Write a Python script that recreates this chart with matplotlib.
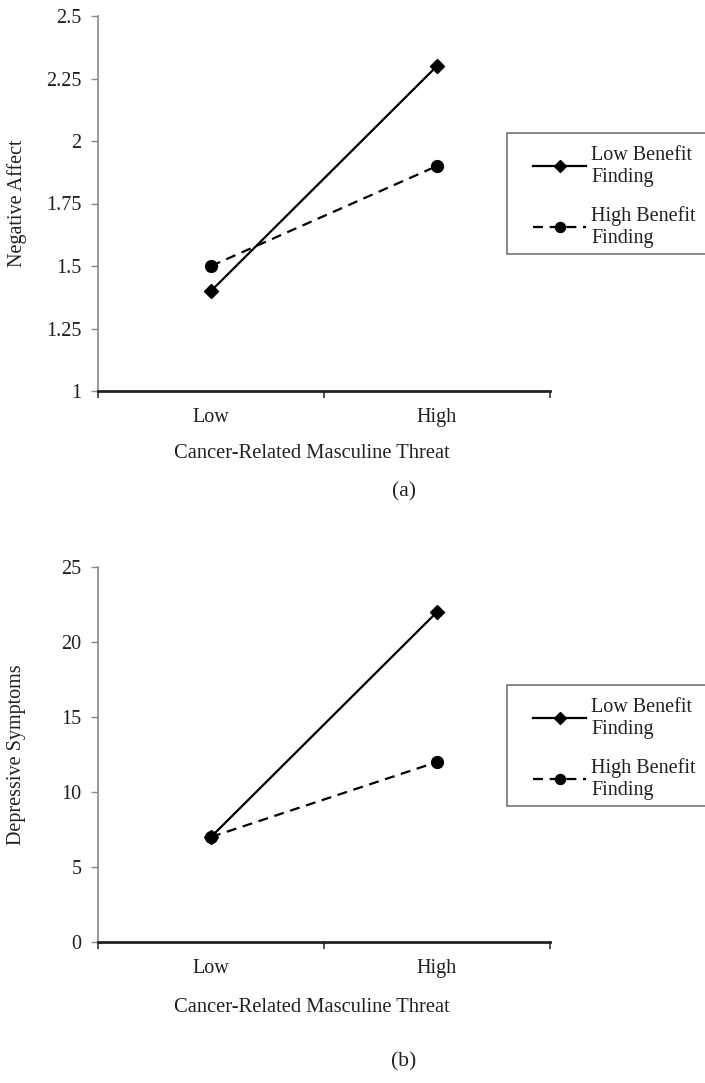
import matplotlib
matplotlib.use("Agg")
import matplotlib.pyplot as plt
from matplotlib.patches import Rectangle

plt.rcParams['font.family'] = ['Liberation Serif', 'DejaVu Serif']

categories = ["Low", "High"]
series_names = ["Low Benefit\nFinding", "High Benefit\nFinding"]
xlabel = "Cancer-Related Masculine Threat"

na_low_bf = [1.4, 2.3]
na_high_bf = [1.5, 1.9]
na_ticks = [1, 1.25, 1.5, 1.75, 2, 2.25, 2.5]
na_ticklabels = ["1", "1.25", "1.5", "1.75", "2", "2.25", "2.5"]

dep_low_bf = [7, 22]
dep_high_bf = [7, 12]
dep_ticks = [0, 5, 10, 15, 20, 25]
dep_ticklabels = ["0", "5", "10", "15", "20", "25"]

W, H = 705, 1083
fig = plt.figure(figsize=(W / 100, H / 100), dpi=100)

TXT = '#231f20'
FS = 14.5


def px(x, y):
    return x / W, 1 - y / H


def make_panel(top_px, bottom_px, low, high, ticks, ticklabels, ylabel,
               caption, caption_y, xlabel_y, legend_top):
    l, b = px(98, bottom_px)
    _, t = px(98, top_px)
    ax = fig.add_axes([l, b, 452 / W, t - b])
    ax.patch.set_visible(False)
    x = list(range(len(categories)))
    ax.plot(x, low, color='black', lw=1.6, marker='D', markersize=7.5,
            label=series_names[0])
    ax.plot(x, high, color='black', lw=1.6, ls=(0, (4.5, 3)), marker='o',
            markersize=8.5, label=series_names[1])
    ax.set_xlim(-0.5, 1.5)
    ax.set_ylim(ticks[0], ticks[-1])
    ax.set_yticks(ticks)
    ax.set_yticklabels(ticklabels)
    ax.set_xticks(x)
    ax.set_xticklabels(categories)
    ax.set_xticks([-0.5, 0.5, 1.5], minor=True)
    ax.tick_params(axis='x', which='major', length=0, pad=12,
                   labelsize=FS, labelcolor=TXT)
    ax.tick_params(axis='x', which='minor', length=5, width=1.2,
                   color='#333333', direction='out')
    ax.tick_params(axis='y', length=5, width=1, color='#888888',
                   direction='out', pad=7, labelsize=FS, labelcolor=TXT)
    for s in ['top', 'right']:
        ax.spines[s].set_visible(False)
    ax.spines['left'].set_color('#888888')
    ax.spines['left'].set_linewidth(1.2)
    ax.spines['bottom'].set_color('#222222')
    ax.spines['bottom'].set_linewidth(2)
    for ln in ax.lines:
        ln.set_clip_on(False)
    yc = (top_px + bottom_px) / 2
    fig.text(*px(17, yc), ylabel, rotation=90, ha='center', va='center',
             fontsize=FS, color=TXT)
    fig.text(*px(312, xlabel_y), xlabel, ha='center', va='center',
             fontsize=FS + 0.3, color=TXT)
    fig.text(*px(404, caption_y), caption, ha='center', va='center',
             fontsize=FS + 1, color=TXT)
    x0, y0 = px(507, legend_top + 121)
    rect = Rectangle((x0, y0), (W + 5 - 507) / W, 121 / H,
                     transform=fig.transFigure, facecolor='white',
                     edgecolor='#777777', lw=1.2, clip_on=False, zorder=-1)
    fig.patches.append(rect)
    handles, labels = ax.get_legend_handles_labels()
    leg = ax.legend(handles, labels, loc='upper left',
                    bbox_to_anchor=px(533, legend_top + 13),
                    bbox_transform=fig.transFigure, frameon=False,
                    fontsize=FS, handlelength=2.65, handletextpad=0.25,
                    borderpad=0, borderaxespad=0, labelspacing=0.95,
                    labelcolor=TXT, markerscale=0.85)
    leg.set_zorder(5)
    return ax


make_panel(16, 391, na_low_bf, na_high_bf, na_ticks, na_ticklabels,
           "Negative Affect", "(a)", 492, 453, 133)
make_panel(567, 942, dep_low_bf, dep_high_bf, dep_ticks, dep_ticklabels,
           "Depressive Symptoms", "(b)", 1062, 1007, 685)

fig.savefig("out.png", dpi=100)
